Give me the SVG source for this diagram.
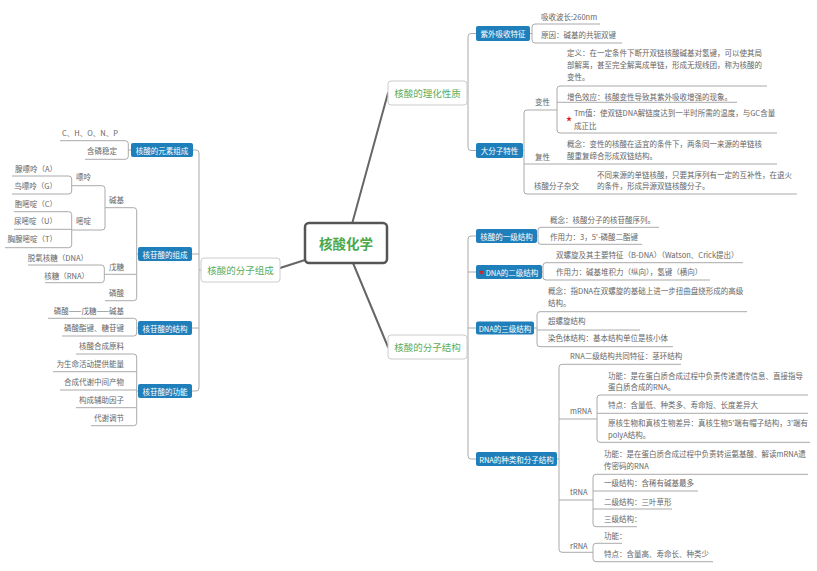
<svg xmlns="http://www.w3.org/2000/svg" width="817" height="571" viewBox="0 0 817 571">
<style>
text{font-family:"Noto Sans CJK SC","Liberation Sans",sans-serif;dominant-baseline:central}
.t{font-size:7.5px;fill:#666}
.e{text-anchor:end}
.w{font-size:7.5px;fill:#fff;text-anchor:middle}
.g{font-size:9.5px;fill:#5aac5a;text-anchor:middle}
.bx{fill:#1f7fba}
.b1{fill:#fff;stroke:#ccc;stroke-width:1}
.ln{fill:none;stroke:#aaa;stroke-width:1}
.c0{fill:none;stroke:#666;stroke-width:2;stroke-linecap:round}
</style>
<defs>
<polygon id="star" points="0,-3 0.705,-0.971 2.853,-0.927 1.141,0.371 1.763,2.427 0,1.2 -1.763,2.427 -1.141,0.371 -2.853,-0.927 -0.705,-0.971" fill="#d22"/>
</defs>
<rect width="817" height="571" fill="#fff"/>
<g id="connectors">
<path class="c0" d="M352,224 L388,93"/>
<path class="c0" d="M305,260 L280,268"/>
<path class="c0" d="M353,263 L388,347"/>
<g class="ln">
<path d="M467,93 H468 M476,33.5 H471 Q468,33.5 468,36.5 V147.5 Q468,150.5 471,150.5 H476"/>
<path d="M530,33.5 H532 M535,24 Q532,24 532,27 V40 Q532,43 535,43 M535,24 H600 M535,43 H622"/>
<path d="M523,150.5 H524 M527,110 Q524,110 524,113 V191 Q524,194 527,194 M527,110 H557 M524,164 H777 M527,194 H797"/>
<path d="M560,86 Q557,86 557,89 V130 Q557,133 560,133 M560,86 H767 M557,102.3 H737 M560,133 H777"/>
<path d="M467,347 H468 M476,236 H471 Q468,236 468,239 V456 Q468,459 471,459 H476 M468,272 H476 M468,328 H476"/>
<path d="M537,236 H538 M541,227.3 Q538,227.3 538,230.3 V241.3 Q538,244.3 541,244.3 M541,227.3 H659 M541,244.3 H642"/>
<path d="M542,272 H543 M546,262.7 Q543,262.7 543,265.7 V277 Q543,280 546,280 M546,262.7 H743 M546,280 H710"/>
<path d="M534,328 H537 M540,311.7 Q537,311.7 537,314.7 V343.7 Q537,346.7 540,346.7 M540,311.7 H747 M537,330 H640 M540,346.7 H673"/>
<path d="M557,459 H559 M562,364.3 Q559,364.3 559,367.3 V549.3 Q559,552.3 562,552.3 M562,364.3 H681 M559,419 H597 M559,500 H593 M562,552.3 H593"/>
<path d="M600,395 Q597,395 597,398 V439.3 Q597,442.3 600,442.3 M600,395 H808 M597,413.3 H808 M600,442.3 H810"/>
<path d="M596,474.3 Q593,474.3 593,477.3 V523.7 Q593,526.7 596,526.7 M596,474.3 H808 M593,491 H698 M593,509 H672 M596,526.7 H637"/>
<path d="M596,543.3 Q593,543.3 593,546.3 V558.7 Q593,561.7 596,561.7 M596,543.3 H622 M596,561.7 H713"/>
<path d="M201,270 H199 M193,150 H196 Q199,150 199,153 V388 Q199,391 196,391 H192 M192,254 H199 M192,328 H199"/>
<path d="M131,150 H128.3 M125.3,140.7 Q128.3,140.7 128.3,143.7 V156.3 Q128.3,159.3 125.3,159.3 M125.3,140.7 H60 M125.3,159.3 H85"/>
<path d="M138,254 H136.7 M133.7,207.7 Q136.7,207.7 136.7,210.7 V297.7 Q136.7,300.7 133.7,300.7 M133.7,207.7 H105 M136.7,274.3 H104.3 M133.7,300.7 H105"/>
<path d="M102,185.7 Q105,185.7 105,188.7 V227 Q105,230 102,230 M102,185.7 H71.7 M102,230 H71.7"/>
<path d="M68.7,176 Q71.7,176 71.7,179 V191 Q71.7,194 68.7,194 M68.7,176 H12 M68.7,194 H12"/>
<path d="M68.7,211.7 Q71.7,211.7 71.7,214.7 V244.7 Q71.7,247.7 68.7,247.7 M68.7,211.7 H14 M71.7,229.3 H14 M68.7,247.7 H5"/>
<path d="M101.3,265 Q104.3,265 104.3,268 V279.7 Q104.3,282.7 101.3,282.7 M101.3,265 H28 M101.3,282.7 H45"/>
<path d="M138,328 H136.7 M133.7,318.3 Q136.7,318.3 136.7,321.3 V333 Q136.7,336 133.7,336 M133.7,318.3 H48 M133.7,336 H62"/>
<path d="M138,391 H136.7 M133.7,354 Q136.7,354 136.7,357 V422.7 Q136.7,425.7 133.7,425.7 M133.7,354 H76 M136.7,371.7 H53 M136.7,390 H60 M136.7,407.7 H76 M133.7,425.7 H91"/>
</g>
</g>
<g id="root">
<rect x="305" y="223" width="82" height="40" rx="4" fill="#fff" stroke="#555" stroke-width="2.5"/>
<text x="346" y="243" style="font-size:13.5px;font-weight:bold;fill:#4aa84a;text-anchor:middle">核酸化学</text>
</g>
<g id="n-lihua"><rect class="b1" x="388" y="81" width="79" height="24" rx="3"/><text class="g" x="427.5" y="93">核酸的理化性质</text></g>
<g id="n-zucheng"><rect class="b1" x="201" y="258" width="79" height="24" rx="3"/><text class="g" x="240.5" y="270">核酸的分子组成</text></g>
<g id="n-jiegou"><rect class="b1" x="388" y="335" width="79" height="24" rx="3"/><text class="g" x="427.5" y="347">核酸的分子结构</text></g>

<g id="n-ziwai"><rect class="bx" x="476" y="26" width="54" height="15" rx="2"/><text class="w" x="503" y="33.5">紫外吸收特征</text>
<text class="t" x="541" y="16">吸收波长:260nm</text>
<text class="t" x="541" y="34">原因：碱基的共轭双键</text></g>
<g id="n-dafenzi"><rect class="bx" x="476" y="143" width="47" height="15" rx="2"/><text class="w" x="499.5" y="150.5">大分子特性</text>
<text class="t" x="535" y="101">变性</text>
<text class="t" x="567" y="52">定义：在一定条件下断开双链核酸碱基对氢键，可以使其局</text>
<text class="t" x="567" y="64">部解离，甚至完全解离成单链，形成无规线团，称为核酸的</text>
<text class="t" x="567" y="76">变性。</text>
<text class="t" x="567" y="96">增色效应：核酸变性导致其紫外吸收增强的现象。</text>
<use href="#star" x="569" y="119"/>
<text class="t" x="574" y="112">Tm值：使双链DNA解链度达到一半时所需的温度，与GC含量</text>
<text class="t" x="574" y="125.5">成正比</text>
<text class="t" x="535" y="156">复性</text>
<text class="t" x="567" y="143.3">概念：变性的核酸在适宜的条件下，两条同一来源的单链核</text>
<text class="t" x="567" y="155">酸重复缔合形成双链结构。</text>
<text class="t" x="534" y="185">核酸分子杂交</text>
<text class="t" x="597" y="174.3">不同来源的单链核酸，只要其序列有一定的互补性，在退火</text>
<text class="t" x="597" y="185.7">的条件，形成异源双链核酸分子。</text></g>

<g id="n-yiji"><rect class="bx" x="476" y="229" width="61" height="14" rx="2"/><text class="w" x="506.5" y="236">核酸的一级结构</text>
<text class="t" x="550" y="219">概念：核酸分子的核苷酸序列。</text>
<text class="t" x="550" y="236">作用力：3，5'-磷酸二酯键</text></g>
<g id="n-erji"><rect class="bx" x="476" y="265" width="66" height="14" rx="2"/><use href="#star" x="481.5" y="272"/><text class="w" x="512" y="272">DNA的二级结构</text>
<text class="t" x="556" y="254.3">双螺旋及其主要特征（B-DNA）（Watson、Crick提出）</text>
<text class="t" x="556" y="271">作用力：碱基堆积力（纵向），氢键（横向）</text></g>
<g id="n-sanji"><rect class="bx" x="476" y="321.5" width="58" height="13" rx="2"/><text class="w" x="505" y="328">DNA的三级结构</text>
<text class="t" x="548" y="290">概念：指DNA在双螺旋的基础上进一步扭曲盘绕形成的高级</text>
<text class="t" x="548" y="302.7">结构。</text>
<text class="t" x="548" y="320">超螺旋结构</text>
<text class="t" x="548" y="337.5">染色体结构：基本结构单位是核小体</text></g>
<g id="n-rna"><rect class="bx" x="476" y="452" width="81" height="14" rx="2"/><text class="w" x="516.5" y="459">RNA的种类和分子结构</text>
<text class="t" x="570" y="355.7">RNA二级结构共同特征：茎环结构</text>
<text class="t" x="570" y="410">mRNA</text>
<text class="t" x="608" y="375">功能：是在蛋白质合成过程中负责传递遗传信息、直接指导</text>
<text class="t" x="608" y="386.5">蛋白质合成的RNA。</text>
<text class="t" x="608" y="404.3">特点：含量低、种类多、寿命短、长度差异大</text>
<text class="t" x="608" y="422.3">原核生物和真核生物差异：真核生物5'端有帽子结构，3'端有</text>
<text class="t" x="608" y="434.3">polyA结构。</text>
<text class="t" x="570" y="491.7">tRNA</text>
<text class="t" x="604" y="453.3">功能：是在蛋白质合成过程中负责转运氨基酸、解读mRNA遗</text>
<text class="t" x="604" y="465">传密码的RNA</text>
<text class="t" x="604" y="482.3">一级结构：含稀有碱基最多</text>
<text class="t" x="604" y="501">二级结构：三叶草形</text>
<text class="t" x="604" y="518.3">三级结构：</text>
<text class="t" x="570" y="545">rRNA</text>
<text class="t" x="604" y="535.7">功能：</text>
<text class="t" x="604" y="553.3">特点：含量高、寿命长、种类少</text></g>

<g id="n-yuansu"><rect class="bx" x="131" y="143" width="62" height="14" rx="2"/><text class="w" x="162" y="150">核酸的元素组成</text>
<text class="t e" x="118" y="132.7">C、H、O、N、P</text>
<text class="t e" x="117" y="150.7">含磷稳定</text></g>
<g id="n-hgzc"><rect class="bx" x="138" y="247" width="54" height="14" rx="2"/><text class="w" x="165" y="254">核苷酸的组成</text>
<text class="t e" x="124" y="199">碱基</text>
<text class="t e" x="91" y="176.7">嘌呤</text>
<text class="t e" x="57" y="168.3">腺嘌呤（A）</text>
<text class="t e" x="57" y="185.7">鸟嘌呤（G）</text>
<text class="t e" x="91" y="220.7">嘧啶</text>
<text class="t e" x="57" y="203.3">胞嘧啶（C）</text>
<text class="t e" x="57" y="220.7">尿嘧啶（U）</text>
<text class="t e" x="57" y="238.3">胸腺嘧啶（T）</text>
<text class="t e" x="124" y="266.7">戊糖</text>
<text class="t e" x="88" y="257">脱氧核糖（DNA）</text>
<text class="t e" x="89" y="275">核糖（RNA）</text>
<text class="t e" x="124" y="292.3">磷酸</text></g>
<g id="n-hgjg"><rect class="bx" x="138" y="321" width="54" height="14" rx="2"/><text class="w" x="165" y="328">核苷酸的结构</text>
<text class="t e" x="124" y="310">磷酸——戊糖——碱基</text>
<text class="t e" x="124" y="327.7">磷酸酯键、糖苷键</text></g>
<g id="n-hggn"><rect class="bx" x="138" y="384" width="54" height="14" rx="2"/><text class="w" x="165" y="391">核苷酸的功能</text>
<text class="t e" x="124" y="345">核酸合成原料</text>
<text class="t e" x="124" y="363.3">为生命活动提供能量</text>
<text class="t e" x="124" y="381">合成代谢中间产物</text>
<text class="t e" x="124" y="399">构成辅助因子</text>
<text class="t e" x="124" y="417.3">代谢调节</text></g>
</svg>
